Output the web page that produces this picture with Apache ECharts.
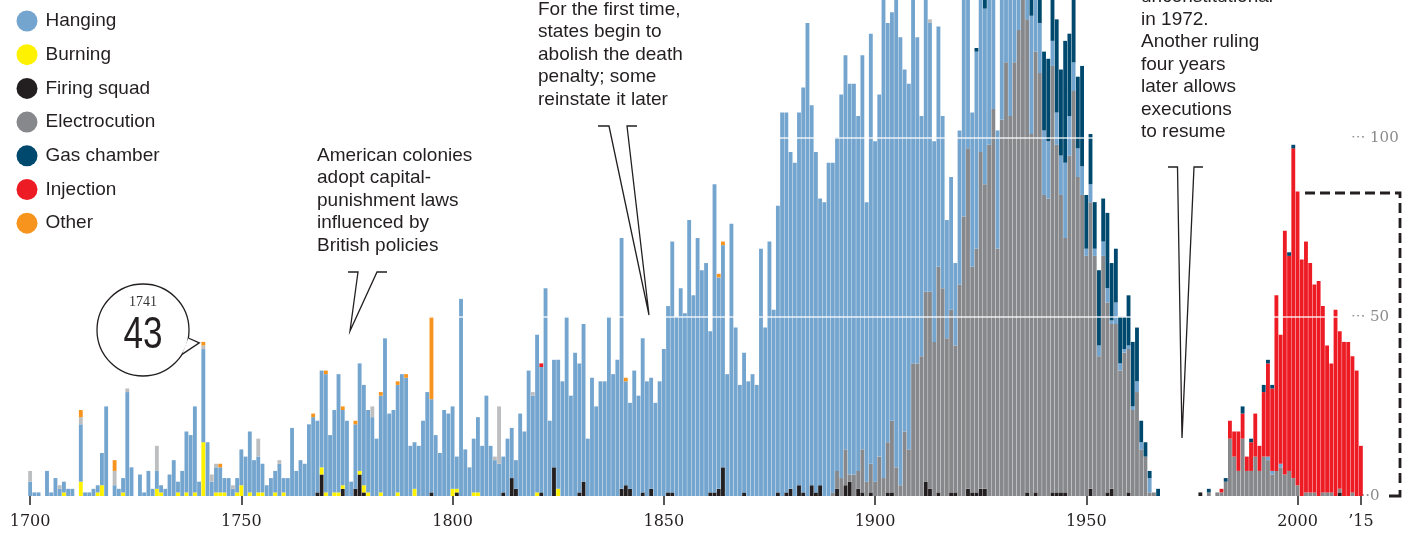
<!DOCTYPE html>
<html>
<head>
<meta charset="utf-8">
<title>Executions in America, 1700-2015</title>
<script src="https://cdn.jsdelivr.net/npm/echarts@6/dist/echarts.min.js"></script>
<style>
  html, body { margin: 0; padding: 0; background: #fff; }
  #chart { width: 1410px; height: 536px; }
</style>
</head>
<body>
<div id="chart"></div>
<script>
// executions per year
var firstYear = 1700, lastYear = 2015;

var hanging = [
  /*1700*/ 4, 1, 1, 0, 7, 1, 5, 2, 3, 2,
  /*1710*/ 2, 0, 16, 1, 1, 2, 2, 9, 25, 0,
  /*1720*/ 3, 2, 4, 29, 8, 0, 6, 1, 7, 2,
  /*1730*/ 5, 2, 2, 6, 10, 3, 7, 17, 17, 24,
  /*1740*/ 4, 26, 15, 4, 7, 7, 4, 5, 2, 4,
  /*1750*/ 10, 11, 17, 10, 10, 8, 3, 5, 6, 9,
  /*1760*/ 4, 5, 19, 7, 10, 9, 20, 22, 20, 27,
  /*1770*/ 33, 17, 23, 33, 21, 21, 4, 18, 30, 28,
  /*1780*/ 23, 22, 16, 27, 44, 23, 24, 30, 34, 33,
  /*1790*/ 14, 13, 14, 21, 29, 26, 17, 12, 24, 23,
  /*1800*/ 23, 9, 55, 13, 8, 15, 21, 14, 28, 14,
  /*1810*/ 10, 9, 10, 16, 14, 8, 23, 18, 35, 28,
  /*1820*/ 44, 35, 58, 21, 30, 36, 32, 50, 28, 40,
  /*1830*/ 36, 44, 16, 33, 25, 32, 32, 50, 34, 38,
  /*1840*/ 70, 29, 24, 35, 28, 43, 32, 31, 26, 32,
  /*1850*/ 41, 52, 70, 50, 58, 51, 77, 56, 72, 63,
  /*1860*/ 65, 45, 86, 59, 62, 34, 76, 47, 31, 39,
  /*1870*/ 32, 34, 31, 69, 47, 71, 52, 80, 107, 106,
  /*1880*/ 94, 93, 104, 113, 132, 106, 95, 80, 82, 93,
  /*1890*/ 92, 93, 107, 110, 109, 109, 99, 110, 78, 120,
  /*1900*/ 95, 101, 140, 117, 114, 135, 125, 101, 102, 110,
  /*1910*/ 91, 67, 90, 75, 56, 67, 48, 33, 37, 23,
  /*1920*/ 43, 70, 60, 43, 55, 60, 49, 60, 45, 33,
  /*1930*/ 50, 35, 40, 30, 25, 38, 50, 33, 50, 14,
  /*1940*/ 18, 16, 7, 9, 11, 21, 11, 8, 8, 8,
  /*1950*/ 2, 5, 2, 3, 4, 4, 1, 6, 2, 1,
  /*1960*/ 1, 1, 3, 2, 0, 4, 0, 0, 0, 0,
  /*1970*/ 0, 0, 0, 0, 0, 0, 0, 0, 0, 0,
  /*1980*/ 0, 0, 0, 0, 0, 0, 0, 0, 0, 0,
  /*1990*/ 0, 0, 0, 1, 1, 0, 1, 0, 0, 0,
  /*2000*/ 0, 0, 0, 0, 0, 0, 0, 0, 0, 0,
  /*2010*/ 0, 0, 0, 0, 0, 0
];

// electrocution starts in 1890
var electrocutionFrom = 1890;
var electrocution = [
  /*1890*/ 1, 5, 5, 10, 2, 6, 5, 12, 4, 8,
  /*1900*/ 4, 11, 5, 14, 20, 8, 3, 18, 13, 37,
  /*1910*/ 37, 39, 53, 55, 43, 63, 58, 44, 51, 41,
  /*1920*/ 59, 78, 95, 63, 68, 94, 85, 98, 108, 69,
  /*1930*/ 105, 121, 106, 121, 130, 150, 132, 101, 123, 118,
  /*1940*/ 84, 83, 119, 97, 83, 71, 95, 113, 89, 84,
  /*1950*/ 67, 80, 67, 39, 67, 53, 46, 48, 35, 40,
  /*1960*/ 40, 24, 29, 13, 11, 1, 1, 0, 0, 0,
  /*1970*/ 0, 0, 0, 0, 0, 0, 0, 0, 0, 1,
  /*1980*/ 0, 1, 1, 4, 16, 11, 7, 16, 7, 7,
  /*1990*/ 11, 7, 11, 10, 6, 7, 8, 6, 7, 5,
  /*2000*/ 3, 0, 1, 1, 1, 0, 1, 1, 1, 0,
  /*2010*/ 1, 0, 0, 1, 0, 0
];

// sparse methods as [year, count]
var burning = [[1708,1],[1712,4],[1716,1],[1717,3],[1722,1],[1730,2],[1731,1],[1735,1],[1737,1],[1739,1],
  [1741,15],[1744,1],[1745,1],[1746,1],[1749,1],[1750,3],[1752,1],[1754,1],[1755,1],[1758,1],[1760,1],
  [1769,2],[1770,1],[1772,1],[1773,1],[1774,1],[1778,1],[1779,2],[1780,1],[1783,1],[1787,1],[1791,2],
  [1800,2],[1801,1],[1805,1],[1806,1],[1820,1],[1825,2]];

var firingSquad = [[1768,1],[1769,6],[1774,2],[1777,2],[1778,6],[1779,1],[1795,1],[1801,1],[1812,1],[1814,5],
  [1815,2],[1821,1],[1824,8],[1830,1],[1831,4],[1840,2],[1841,3],[1842,2],[1845,1],[1847,2],[1851,1],[1852,1],
  [1861,1],[1862,1],[1863,2],[1864,8],[1869,1],[1877,1],[1879,1],[1880,2],[1882,3],[1883,1],[1885,3],[1886,1],
  [1887,3],[1891,2],[1893,3],[1894,4],[1896,2],[1897,1],[1899,1],[1903,1],[1904,1],[1912,4],[1913,2],[1915,1],
  [1918,1],[1919,1],[1922,2],[1923,1],[1924,1],[1925,2],[1926,2],[1936,1],[1938,1],[1942,1],[1943,1],[1944,1],
  [1945,1],[1951,2],[1955,1],[1956,2],[1960,1],[1977,1],[2010,1]];

var gasChamber = [[1924,1],[1926,3],[1935,10],[1937,10],[1939,20],[1940,22],[1941,23],[1942,20],[1943,26],[1944,24],
  [1945,34],[1946,23],[1947,25],[1948,20],[1949,28],[1950,15],[1951,14],[1952,13],[1953,21],[1954,12],[1955,21],
  [1956,16],[1957,15],[1958,13],[1959,9],[1960,14],[1961,18],[1962,15],[1963,6],[1964,4],[1965,2],[1967,2],
  [1979,1],[1983,1],[1987,2],[1989,1],[1992,2],[1993,1],[1994,1],[1998,1],[1999,1]];

var injection = [[1821,1],[1982,1],[1984,5],[1985,7],[1986,11],[1987,7],[1988,4],[1989,8],[1990,12],[1991,7],
  [1992,18],[1993,26],[1994,23],[1995,49],[1996,36],[1997,68],[1998,60],[1999,92],[2000,82],[2001,66],[2002,70],
  [2003,64],[2004,58],[2005,60],[2006,52],[2007,41],[2008,36],[2009,52],[2010,44],[2011,43],[2012,43],[2013,38],
  [2014,35],[2015,14]];

var other = [[1712,2],[1720,3],[1741,1],[1745,1],[1767,1],[1770,1],[1774,1],[1777,1],[1783,1],[1787,1],[1789,1],
  [1795,23],[1841,1],[1863,1],[1864,1]];

// light grey, method not recorded (not in legend)
var unknown = [[1700,3],[1707,1],[1712,2],[1720,4],[1723,1],[1730,7],[1741,1],[1743,2],[1744,1],[1748,1],
  [1754,5],[1759,1],[1781,3],[1810,1],[1811,16],[1819,1],[1913,1]];

var legendNames = ['Hanging', 'Burning', 'Firing squad', 'Electrocution', 'Gas chamber', 'Injection', 'Other'];
var yTicks = [0, 50, 100];

var years = [];
for (var y = firstYear; y <= lastYear; y++) years.push(String(y));

function emptyYears() { return years.map(function () { return 0; }); }
function fromPairs(pairs) {
  var arr = emptyYears();
  pairs.forEach(function (p) { arr[p[0] - firstYear] = p[1]; });
  return arr;
}
function fromDense(list, start) {
  var arr = emptyYears();
  list.forEach(function (v, i) { arr[start - firstYear + i] = v; });
  return arr;
}

// stack order bottom -> top
var layers = [
  { name: 'Firing squad', data: fromPairs(firingSquad), color: '#231f20' },
  { name: 'Burning', data: fromPairs(burning), color: '#fff200' },
  { name: 'Electrocution', data: fromDense(electrocution, electrocutionFrom), color: '#87888b' },
  { name: 'Hanging', data: hanging, color: '#74a5cf' },
  { name: 'Injection', data: fromPairs(injection), color: '#ed1c24' },
  { name: 'Unknown', data: fromPairs(unknown), color: '#bcbec0' },
  { name: 'Gas chamber', data: fromPairs(gasChamber), color: '#00496e' },
  { name: 'Other', data: fromPairs(other), color: '#f7941d' }
];

function isMarked(idx, val) {
  var v = +val;
  return v % 50 === 0 || v === lastYear;
}

var series = layers.map(function (l, i) {
  var s = {
    name: l.name,
    type: 'bar',
    stack: 'all',
    data: l.data,
    barWidth: 3.85,
    itemStyle: { color: l.color },
    emphasis: { disabled: true },
    silent: true,
    animation: false
  };
  if (i === layers.length - 1) {
    s.markLine = {
      silent: true,
      symbol: ['none', 'none'],
      label: { show: false },
      lineStyle: { color: 'rgba(255,255,255,0.85)', width: 1.6, type: 'solid' },
      data: [{ yAxis: 50 }, { yAxis: 100 }],
      animation: false
    };
  }
  return s;
});

var sans = '"Liberation Sans", Arial, sans-serif';
var serif = '"DejaVu Serif", serif';

var chart = echarts.init(document.getElementById('chart'));
var option = {
  animation: false,
  backgroundColor: '#fff',
  textStyle: { fontFamily: sans },
  grid: { left: 28, right: 47, top: 0, bottom: 40, containLabel: false, outerBoundsMode: 'none' },
  legend: {
    data: legendNames,
    orient: 'vertical',
    left: 16.5,
    top: 10.5,
    padding: 0,
    icon: 'circle',
    itemWidth: 21,
    itemHeight: 21,
    itemGap: 12.7,
    selectedMode: false,
    textStyle: { fontFamily: sans, fontSize: 19, lineHeight: 21, color: '#231f20', padding: [0, 0, 0, 3] }
  },
  xAxis: {
    type: 'category',
    data: years,
    axisLine: { show: false },
    axisTick: {
      show: true,
      alignWithLabel: true,
      interval: isMarked,
      length: 9,
      lineStyle: { color: '#231f20', width: 1.5 }
    },
    axisLabel: {
      interval: isMarked,
      margin: 18,
      fontFamily: serif,
      fontSize: 16,
      color: '#231f20',
      formatter: function (v) { return +v === lastYear ? '\u2019' + v.slice(2) : v; }
    }
  },
  yAxis: {
    type: 'value',
    position: 'right',
    min: 0,
    max: 138.4,
    interval: 50,
    axisLine: { show: false },
    axisTick: { show: false },
    splitLine: { show: false },
    axisLabel: {
      margin: -12,
      fontFamily: serif,
      fontSize: 15,
      color: '#8a8a8a',
      formatter: function (v) {
        if (yTicks.indexOf(v) < 0) return '';
        return v === 0 ? '  \u00b7\u00b70' : '\u00b7\u00b7\u00b7 ' + v;
      }
    }
  },
  series: series
};
chart.setOption(option);

// annotations
var ink = '#231f20';
function note(x, y, text) {
  return {
    type: 'text', x: x, y: y, z: 100,
    style: {
      text: text, fill: ink, fontSize: 19, fontFamily: sans, lineHeight: 22.5,
      textAlign: 'left', align: 'left', textVerticalAlign: 'top', verticalAlign: 'top'
    }
  };
}
function pointer(points) {
  return {
    type: 'polyline', z: 100,
    shape: { points: points },
    style: { stroke: ink, lineWidth: 1.3, fill: null }
  };
}

var tip = chart.convertToPixel({ xAxisIndex: 0, yAxisIndex: 0 }, ['1741', 43]);
var tipPt = [tip[0] - 4, tip[1] + 1];
var bc = [143, 330], br = 46;
function onCircle(deg) {
  var a = deg * Math.PI / 180;
  return [bc[0] + br * Math.cos(a), bc[1] + br * Math.sin(a)];
}
var b1 = onCircle(10), b2 = onCircle(32);

chart.setOption({
  graphic: [
    note(317, 144.5, 'American colonies\nadopt capital-\npunishment laws\ninfluenced by\nBritish policies'),
    note(538, -1.5, 'For the first time,\nstates begin to\nabolish the death\npenalty; some\nreinstate it later'),
    note(1141, -14, 'unconstitutional\nin 1972.\nAnother ruling\nfour years\nlater allows\nexecutions\nto resume'),
    pointer([[348, 272], [358, 272], [350, 331], [377, 272], [387, 272]]),
    pointer([[598, 126], [609, 126], [649, 315], [627, 126], [637, 126]]),
    pointer([[1168, 167], [1177.5, 167], [1182, 438], [1194, 167], [1203, 167]]),
    // dashed bracket on the right
    {
      type: 'polyline', z: 100,
      shape: { points: [[1305, 193], [1400, 193], [1400, 488]] },
      style: { stroke: ink, lineWidth: 2.8, lineDash: [10, 5], fill: null }
    },
    {
      type: 'polyline', z: 100,
      shape: { points: [[1400, 490], [1400, 496], [1389, 496]] },
      style: { stroke: ink, lineWidth: 2.8, fill: null }
    },
    // 1741 bubble
    { type: 'circle', z: 110, shape: { cx: bc[0], cy: bc[1], r: br }, style: { fill: '#fff', stroke: ink, lineWidth: 1.3 } },
    { type: 'polygon', z: 111, shape: { points: [b1, tipPt, b2] }, style: { fill: '#fff' } },
    { type: 'polyline', z: 112, shape: { points: [b1, tipPt, b2] }, style: { stroke: ink, lineWidth: 1.3, fill: null } },
    {
      type: 'text', x: bc[0], y: 302, z: 113,
      style: { text: '1741', fill: '#333', fontSize: 14, fontFamily: '"Liberation Serif", serif',
        textAlign: 'center', align: 'center', textVerticalAlign: 'middle', verticalAlign: 'middle' }
    },
    {
      type: 'text', x: bc[0], y: 336, z: 113, scaleX: 0.8,
      style: { text: '43', fill: ink, fontSize: 44, fontFamily: sans,
        textAlign: 'center', align: 'center', textVerticalAlign: 'middle', verticalAlign: 'middle' }
    }
  ]
});
</script>
</body>
</html>
